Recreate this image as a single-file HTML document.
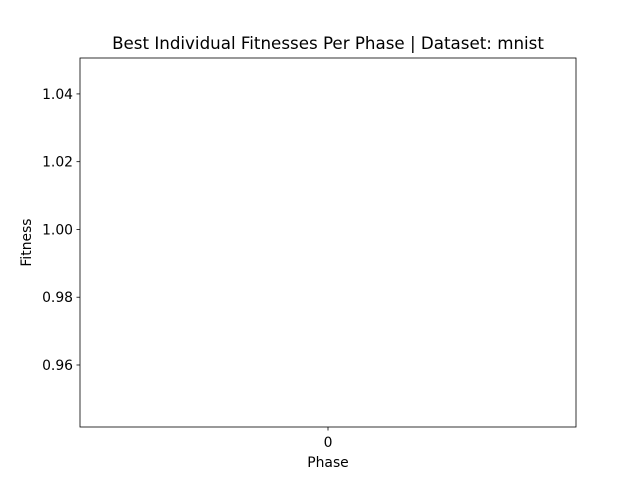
<!DOCTYPE html>
<html><head><meta charset="utf-8"><style>
body{margin:0;background:#fff;}
svg text{font-family:"DejaVu Sans","Liberation Sans",sans-serif;fill:#000;}
</style></head><body>
<svg id="chart" width="640" height="480" viewBox="0 0 640 480">
<rect x="0" y="0" width="640" height="480" fill="#fff"/>
<text x="328" y="49" font-size="16.7" text-anchor="middle">Best Individual Fitnesses Per Phase | Dataset: mnist</text>
<g id="yticks"></g>
<g id="xticks"></g>
<g id="series"></g>
<rect x="80" y="58" width="496" height="369" fill="none" stroke="#000" stroke-width="0.8"/>
<text x="328" y="467" font-size="13.9" text-anchor="middle">Phase</text>
<text x="31" y="242.5" font-size="13.9" text-anchor="middle" transform="rotate(-90 31 242.5)">Fitness</text>
</svg>
<script>
const phases = [0];
const fitness = [1.0];
const yTicks = [0.96, 0.98, 1.00, 1.02, 1.04];
const yTickLabels = ["0.96", "0.98", "1.00", "1.02", "1.04"];
const xTicks = [0];
const xTickLabels = ["0"];

const ns = "http://www.w3.org/2000/svg";
const L = 80, R = 576, T = 58, B = 427;
const yMin = 0.9417, yMax = 1.0506;
const xMin = -0.055, xMax = 0.055;
function y(v){ return B - (v - yMin) / (yMax - yMin) * (B - T); }
function x(v){ return L + (v - xMin) / (xMax - xMin) * (R - L); }
function mk(tag, attrs, parent){ const e = document.createElementNS(ns, tag); for (const k in attrs) e.setAttribute(k, attrs[k]); parent.appendChild(e); return e; }

const yg = document.getElementById('yticks');
yTicks.forEach((v, i) => {
  const l = mk('line', {x1: L - 3.5, x2: L, y1: y(v), y2: y(v), stroke: '#000', 'stroke-width': 0.8}, yg);
  
  
  const t = mk('text', {x: L - 7, y: y(v) + 5, 'font-size': 13.9, 'text-anchor': 'end'}, yg);
  t.textContent = yTickLabels[i];
  
  
});
const xg = document.getElementById('xticks');
xTicks.forEach((v, i) => {
  const l = mk('line', {x1: x(v), x2: x(v), y1: B, y2: B + 3.5, stroke: '#000', 'stroke-width': 0.8}, xg);
  
  
  const t = mk('text', {x: x(v), y: B + 20, 'font-size': 13.9, 'text-anchor': 'middle'}, xg);
  t.textContent = xTickLabels[i];
  
  
});
const sg = document.getElementById('series');
const d = phases.map((p, i) => (i ? 'L' : 'M') + x(p) + ',' + y(fitness[i])).join(' ');
const path = mk('path', {d: d, fill: 'none', stroke: '#1f77b4', 'stroke-width': 1.5}, sg);


</script>
</body></html>
